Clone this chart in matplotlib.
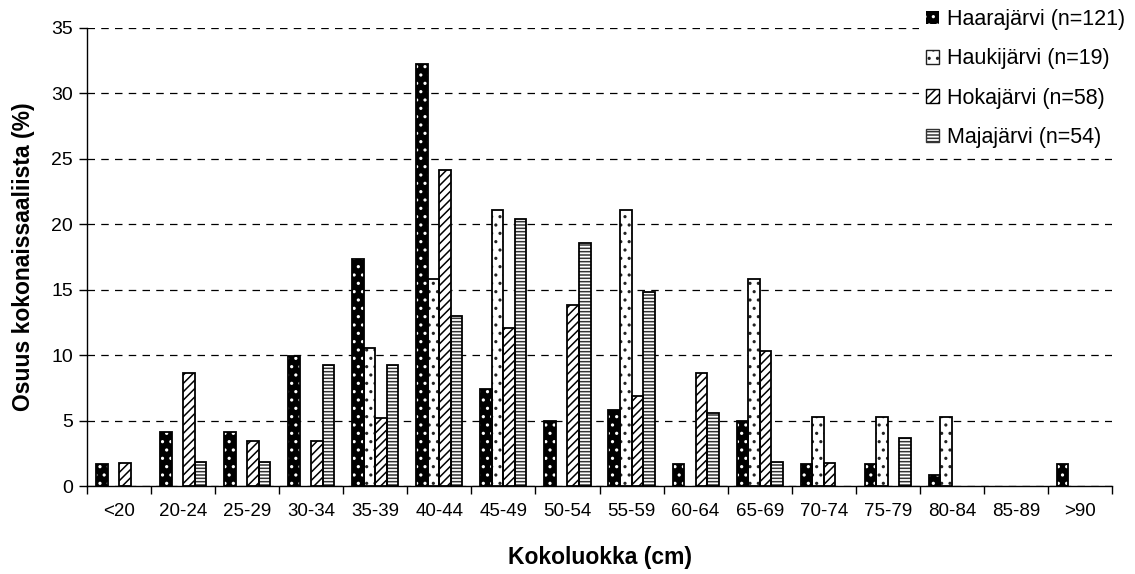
import numpy as np
import matplotlib.pyplot as plt
import matplotlib.patches as mpatches

plt.rcParams['font.family'] = ['Liberation Sans', 'DejaVu Sans']
plt.rcParams['hatch.linewidth'] = 1.1

# Size classes and percentage shares per lake
categories = ['<20', '20-24', '25-29', '30-34', '35-39', '40-44', '45-49', '50-54',
              '55-59', '60-64', '65-69', '70-74', '75-79', '80-84', '85-89', '>90']
haara = [1.65, 4.13, 4.13, 9.92, 17.36, 32.23, 7.44, 4.96,
         5.79, 1.65, 4.96, 1.65, 1.65, 0.83, 0, 1.65]
hauki = [0, 0, 0, 0, 10.53, 15.79, 21.05, 0,
         21.05, 0, 15.79, 5.26, 5.26, 5.26, 0, 0]
hoka = [1.72, 8.62, 3.45, 3.45, 5.17, 24.14, 12.07, 13.79,
        6.90, 8.62, 10.34, 1.72, 0, 0, 0, 0]
maja = [0, 1.85, 1.85, 9.26, 9.26, 12.96, 20.37, 18.52,
        14.81, 5.56, 1.85, 0, 3.70, 0, 0, 0]
labels = ['Haarajärvi (n=121)', 'Haukijärvi (n=19)', 'Hokajärvi (n=58)', 'Majajärvi (n=54)']

fig = plt.figure(figsize=(11.35, 5.74), dpi=100)
ax = fig.add_axes([0.0767, 0.1533, 0.9797 - 0.0767, 0.952 - 0.1533])

x = np.arange(len(categories))
w = 0.18

# (face, hatch colour, hatch) per series
styles = [('black', 'white', '..'),
          ('white', '#222222', '..'),
          ('white', 'black', '////'),
          ('white', '#333333', '-----')]

handles = []
for k, (vals, (fc, hc, hatch)) in enumerate(zip([haara, hauki, hoka, maja], styles)):
    vals = np.array(vals)
    keep = vals > 0
    pos = (x + (k - 1.5) * w)[keep]
    ax.bar(pos, vals[keep], w, color=fc, edgecolor=hc, hatch=hatch, linewidth=0, zorder=3)
    ax.bar(pos, vals[keep], w, facecolor='none', edgecolor='black', linewidth=1.3, zorder=4)
    handles.append(mpatches.Patch(facecolor=fc, edgecolor=hc, hatch=hatch,
                                  linewidth=0 if k == 0 else 1))

ax.set_xlim(-0.5, len(categories) - 0.5)
ax.set_ylim(0, 35)
ax.set_yticks(range(0, 36, 5))
ax.yaxis.grid(True, linestyle=(0, (6, 5)), color='black', linewidth=0.9, zorder=0)
ax.set_axisbelow(True)

ax.set_xticks(x)
ax.set_xticklabels(categories, fontsize=13.5)
ax.tick_params(axis='x', length=0, pad=12)
ax.set_xticks(np.arange(-0.5, len(categories)), minor=True)
ax.tick_params(axis='x', which='minor', length=6, width=1)
ax.tick_params(axis='y', labelsize=14, length=6, width=1, pad=4)

for s in ['top', 'right']:
    ax.spines[s].set_visible(False)
for s in ['left', 'bottom']:
    ax.spines[s].set_linewidth(1)

ax.set_xlabel('Kokoluokka (cm)', fontsize=16.5, fontweight='bold', labelpad=19)
ax.set_ylabel('Osuus kokonaissaaliista (%)', fontsize=16.5, fontweight='bold', labelpad=12)

leg = fig.legend(handles, labels, loc='upper right', bbox_to_anchor=(0.999, 0.999),
                 frameon=True, facecolor='white', edgecolor='none', framealpha=1,
                 fancybox=False, borderpad=0.3, borderaxespad=0.1,
                 fontsize=15.5, handlelength=0.6, handleheight=0.6,
                 handletextpad=0.4, labelspacing=0.85)

fig.savefig('out.png', dpi=100)
